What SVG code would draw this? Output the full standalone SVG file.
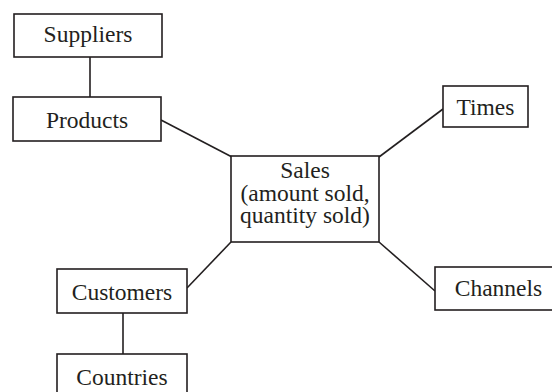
<svg xmlns="http://www.w3.org/2000/svg" width="552" height="392" viewBox="0 0 552 392">
<style>
.box{fill:#fff;stroke:#231f20;stroke-width:1.6}
.edge{stroke:#231f20;stroke-width:1.6;fill:none}
text{font-family:"Liberation Serif","Times New Roman",serif;font-size:23.5px;fill:#231f20;text-anchor:middle}
</style>
<rect width="552" height="392" fill="#fff"/>
<g id="connectors">
<line class="edge" x1="90" y1="57" x2="90" y2="97"/>
<line class="edge" x1="161" y1="120" x2="232" y2="157"/>
<line class="edge" x1="379" y1="157" x2="443" y2="109"/>
<line class="edge" x1="379" y1="242" x2="435" y2="291"/>
<line class="edge" x1="187" y1="288" x2="231" y2="242"/>
<line class="edge" x1="123" y1="313" x2="123" y2="354"/>
</g>
<g id="suppliers"><rect class="box" x="14" y="14" width="148" height="43"/><text x="88" y="42">Suppliers</text></g>
<g id="products"><rect class="box" x="13" y="97" width="148" height="44"/><text x="87" y="128">Products</text></g>
<g id="sales"><rect class="box" x="231" y="156" width="148" height="86"/><text x="305" y="178">Sales</text><text x="305" y="201">(amount sold,</text><text x="305" y="223">quantity sold)</text></g>
<g id="times"><rect class="box" x="443" y="86" width="85" height="41"/><text x="485.5" y="115">Times</text></g>
<g id="channels"><rect class="box" x="435" y="267" width="120" height="43"/><text x="498.5" y="296">Channels</text></g>
<g id="customers"><rect class="box" x="57" y="269" width="130" height="44"/><text x="122" y="300">Customers</text></g>
<g id="countries"><rect class="box" x="57" y="354" width="130" height="44"/><text x="122" y="385">Countries</text></g>
</svg>
